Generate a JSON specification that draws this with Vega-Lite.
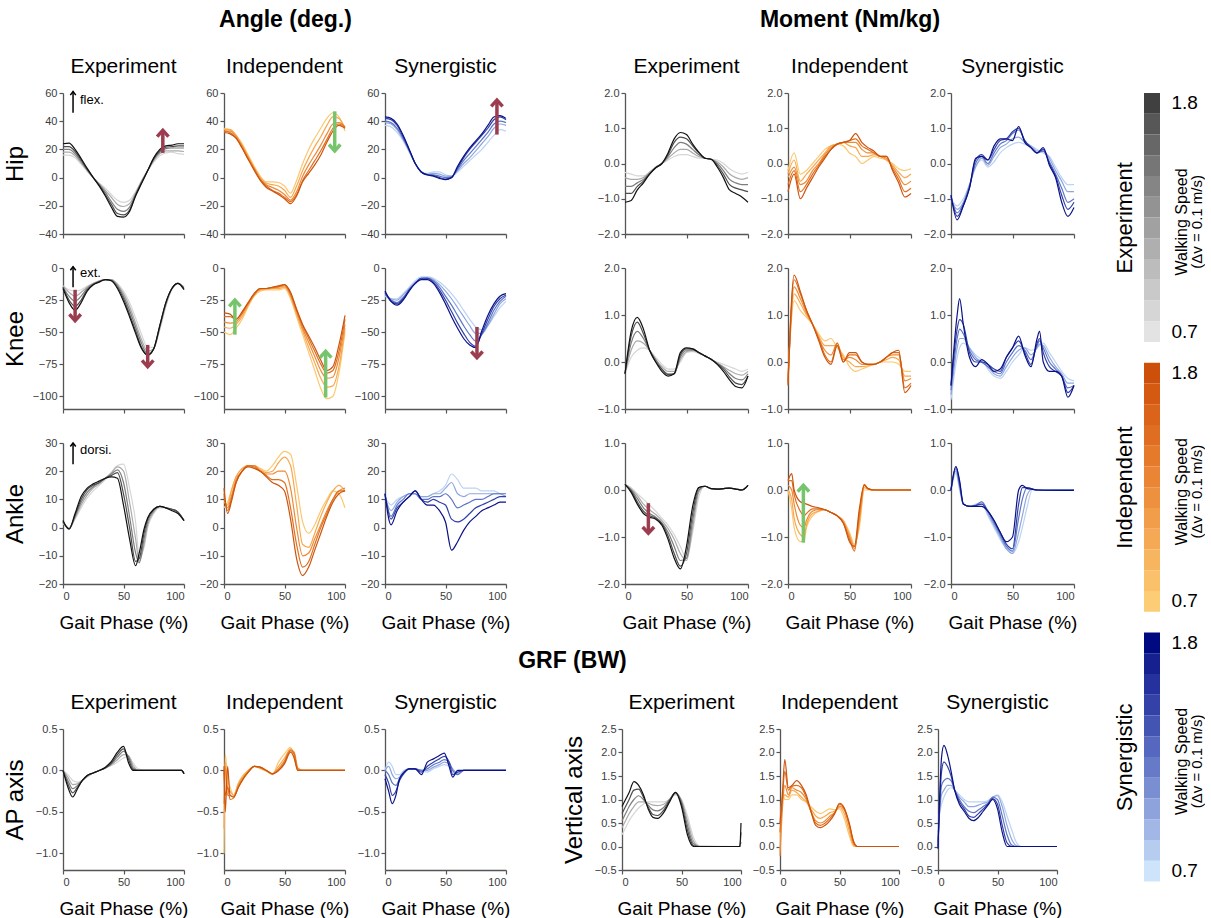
{
"$schema":"https://vega.github.io/schema/vega-lite/v6.json",
"background":"white",
"padding":{"left":3,"top":9,"right":0,"bottom":0},
"config":{"view":{"stroke":null},"font":"Liberation Sans",
"axis":{"grid":false,"domainColor":"#555555","domainWidth":1.3,"tickColor":"#555555","tickWidth":1.2,"tickSize":4,"labelColor":"#3c3c3c","labelFontSize":11,"labelFont":"Liberation Sans","titleFont":"Liberation Sans","titleFontWeight":"normal","titleColor":"black","labelPadding":2},
"axisX":{"titleFontSize":19,"titlePadding":12},
"axisY":{"titleFontSize":24,"titlePadding":8,"minExtent":28,"maxExtent":28},
"title":{"font":"Liberation Sans","fontSize":21,"fontWeight":"normal","color":"black","offset":10,"frame":"group","baseline":"alphabetic","anchor":"middle"},
"line":{"strokeWidth":1.2,"interpolate":"monotone"}},
"datasets":{
"hae":[{"x":0,"a":16,"b":18,"c":20,"d":22,"e":24},{"x":5,"a":16,"b":18,"c":20,"d":22,"e":24.5},{"x":10,"a":14,"b":15.5,"c":17,"d":18.5,"e":20},{"x":15,"a":9.5,"b":10.5,"c":11.5,"d":12.5,"e":13.5},{"x":20,"a":4.5,"b":5,"c":5.5,"d":6,"e":6.5},{"x":25,"a":0,"b":0,"c":0,"d":0,"e":0},{"x":30,"a":-4,"b":-4.5,"c":-5,"d":-5.5,"e":-6},{"x":35,"a":-7.5,"b":-9,"c":-10.5,"d":-12,"e":-13},{"x":40,"a":-12,"b":-14,"c":-17,"d":-19,"e":-21},{"x":45,"a":-16,"b":-19,"c":-22.5,"d":-25.5,"e":-27.5},{"x":50,"a":-17.5,"b":-20.5,"c":-24,"d":-26.5,"e":-28},{"x":55,"a":-16,"b":-18.5,"c":-21,"d":-23,"e":-24},{"x":60,"a":-10,"b":-11,"c":-12,"d":-12.5,"e":-13},{"x":65,"a":-2,"b":-2.5,"c":-3,"d":-3.5,"e":-4},{"x":70,"a":5,"b":5,"c":5,"d":5,"e":5},{"x":75,"a":11,"b":12,"c":13,"d":13.5,"e":14},{"x":80,"a":15.5,"b":17,"c":18,"d":19,"e":20},{"x":85,"a":17.5,"b":19,"c":20.5,"d":21.5,"e":22.5},{"x":90,"a":18,"b":19,"c":21,"d":22,"e":23},{"x":95,"a":17,"b":19,"c":21,"d":22.5,"e":24},{"x":100,"a":16.5,"b":18.5,"c":21,"d":22.5,"e":24}],
"hai":[{"x":0,"a":35,"b":34,"c":33,"d":33,"e":32},{"x":5,"a":34,"b":34,"c":33,"d":32,"e":31},{"x":10,"a":30,"b":30,"c":29,"d":28,"e":28},{"x":15,"a":24,"b":23,"c":22,"d":21,"e":21},{"x":20,"a":16,"b":15,"c":14,"d":13,"e":13},{"x":25,"a":8,"b":7,"c":6,"d":6,"e":5},{"x":30,"a":1,"b":0,"c":-1,"d":-1.5,"e":-2},{"x":35,"a":-3,"b":-4,"c":-5,"d":-6,"e":-7},{"x":40,"a":-3,"b":-5,"c":-7,"d":-9,"e":-9.5},{"x":45,"a":-3.5,"b":-6,"c":-9,"d":-11,"e":-12},{"x":50,"a":-6,"b":-9,"c":-12,"d":-14,"e":-15},{"x":55,"a":-11,"b":-14,"c":-16,"d":-17,"e":-18.5},{"x":60,"a":-2,"b":-6,"c":-10,"d":-12,"e":-13},{"x":65,"a":10,"b":5,"c":1,"d":-2,"e":-3},{"x":70,"a":20,"b":14,"c":9,"d":5,"e":3},{"x":75,"a":28,"b":22,"c":16,"d":12,"e":9},{"x":80,"a":35,"b":29,"c":23,"d":19,"e":16},{"x":85,"a":42,"b":37,"c":31,"d":27,"e":25},{"x":90,"a":46,"b":43,"c":38,"d":35,"e":33},{"x":95,"a":43,"b":42,"c":39,"d":38,"e":37},{"x":100,"a":33,"b":35,"c":36,"d":36,"e":35}],
"has":[{"x":0,"a":37,"b":39,"c":40,"d":42,"e":43},{"x":5,"a":36,"b":38,"c":39,"d":41,"e":42},{"x":10,"a":32,"b":34,"c":35,"d":37,"e":38},{"x":15,"a":26,"b":27,"c":28,"d":29,"e":30},{"x":20,"a":18,"b":19,"c":19,"d":20,"e":20},{"x":25,"a":10,"b":10,"c":10,"d":10,"e":10},{"x":30,"a":4,"b":4,"c":4,"d":4,"e":4},{"x":35,"a":3,"b":2.5,"c":2,"d":2,"e":2},{"x":40,"a":4,"b":3,"c":2,"d":1.5,"e":1},{"x":45,"a":4,"b":2.5,"c":1,"d":0,"e":-0.5},{"x":50,"a":2,"b":1,"c":0,"d":-1,"e":-1.5},{"x":55,"a":1,"b":1,"c":0.5,"d":0,"e":0},{"x":60,"a":4,"b":5,"c":6,"d":7,"e":8},{"x":65,"a":8,"b":10,"c":12,"d":14,"e":15},{"x":70,"a":12,"b":14,"c":17,"d":20,"e":21},{"x":75,"a":16,"b":19,"c":22,"d":25,"e":26},{"x":80,"a":20,"b":24,"c":27,"d":30,"e":31},{"x":85,"a":25,"b":29,"c":32,"d":35,"e":37},{"x":90,"a":30,"b":35,"c":38,"d":41,"e":43},{"x":95,"a":34,"b":38,"c":40,"d":43,"e":44},{"x":100,"a":33,"b":37,"c":39,"d":41,"e":42}],
"kae":[{"x":0,"a":-14,"b":-14,"c":-15,"d":-15,"e":-16},{"x":5,"a":-17,"b":-19,"c":-22,"d":-25,"e":-27},{"x":10,"a":-18,"b":-22,"c":-26,"d":-30,"e":-33},{"x":15,"a":-17,"b":-19,"c":-22,"d":-25,"e":-27},{"x":20,"a":-14,"b":-15,"c":-16,"d":-17,"e":-18},{"x":25,"a":-12,"b":-12,"c":-12.5,"d":-13,"e":-13},{"x":30,"a":-10,"b":-10,"c":-10.5,"d":-10.5,"e":-11},{"x":35,"a":-9,"b":-9,"c":-9,"d":-9,"e":-9},{"x":40,"a":-9,"b":-9,"c":-9.5,"d":-10,"e":-10},{"x":45,"a":-12,"b":-13,"c":-14,"d":-15,"e":-16},{"x":50,"a":-18,"b":-20,"c":-22,"d":-24,"e":-26},{"x":55,"a":-27,"b":-30,"c":-33,"d":-36,"e":-38},{"x":60,"a":-39,"b":-43,"c":-46,"d":-49,"e":-51},{"x":65,"a":-52,"b":-56,"c":-59,"d":-62,"e":-63},{"x":70,"a":-62,"b":-65,"c":-67,"d":-68,"e":-68},{"x":75,"a":-62,"b":-63,"c":-63,"d":-63,"e":-63},{"x":80,"a":-48,"b":-47,"c":-46,"d":-45,"e":-45},{"x":85,"a":-30,"b":-29,"c":-28,"d":-27,"e":-27},{"x":90,"a":-17,"b":-16,"c":-16,"d":-16,"e":-16},{"x":95,"a":-12,"b":-12,"c":-12,"d":-12,"e":-12},{"x":100,"a":-15,"b":-15,"c":-16,"d":-16,"e":-17}],
"kai":[{"x":0,"a":-50,"b":-46,"c":-42,"d":-38,"e":-35},{"x":5,"a":-52,"b":-47,"c":-43,"d":-38,"e":-36},{"x":10,"a":-47,"b":-44,"c":-42,"d":-40,"e":-40},{"x":15,"a":-40,"b":-38,"c":-36,"d":-35,"e":-34},{"x":20,"a":-30,"b":-29,"c":-28,"d":-27,"e":-27},{"x":25,"a":-22,"b":-21,"c":-21,"d":-20,"e":-20},{"x":30,"a":-18,"b":-17,"c":-16.5,"d":-16,"e":-16},{"x":35,"a":-17,"b":-16.5,"c":-16,"d":-16,"e":-16},{"x":40,"a":-17,"b":-16,"c":-15.5,"d":-15,"e":-15},{"x":45,"a":-17,"b":-16,"c":-15,"d":-14.5,"e":-14},{"x":50,"a":-16,"b":-15,"c":-14,"d":-13,"e":-13},{"x":55,"a":-24,"b":-22,"c":-21,"d":-20,"e":-19},{"x":60,"a":-38,"b":-36,"c":-34,"d":-33,"e":-32},{"x":65,"a":-52,"b":-49,"c":-47,"d":-45,"e":-44},{"x":70,"a":-66,"b":-62,"c":-58,"d":-55,"e":-53},{"x":75,"a":-80,"b":-74,"c":-69,"d":-65,"e":-62},{"x":80,"a":-94,"b":-86,"c":-80,"d":-75,"e":-72},{"x":85,"a":-102,"b":-93,"c":-86,"d":-82,"e":-80},{"x":90,"a":-100,"b":-92,"c":-85,"d":-80,"e":-77},{"x":95,"a":-82,"b":-77,"c":-70,"d":-65,"e":-60},{"x":100,"a":-50,"b":-47,"c":-44,"d":-40,"e":-37}],
"kas":[{"x":0,"a":-22,"b":-21,"c":-20,"d":-19,"e":-18},{"x":5,"a":-24,"b":-24,"c":-25,"d":-26,"e":-26},{"x":10,"a":-24,"b":-25,"c":-27,"d":-28,"e":-29},{"x":15,"a":-20,"b":-21,"c":-23,"d":-24,"e":-25},{"x":20,"a":-15,"b":-16,"c":-17,"d":-17,"e":-18},{"x":25,"a":-10,"b":-11,"c":-12,"d":-12,"e":-12},{"x":30,"a":-7,"b":-8,"c":-8,"d":-8,"e":-9},{"x":35,"a":-7,"b":-7.5,"c":-8,"d":-8,"e":-9},{"x":40,"a":-8,"b":-9,"c":-10,"d":-11,"e":-12},{"x":45,"a":-11,"b":-13,"c":-15,"d":-17,"e":-19},{"x":50,"a":-15,"b":-18,"c":-22,"d":-25,"e":-28},{"x":55,"a":-20,"b":-24,"c":-29,"d":-34,"e":-38},{"x":60,"a":-26,"b":-31,"c":-37,"d":-43,"e":-47},{"x":65,"a":-33,"b":-38,"c":-45,"d":-51,"e":-55},{"x":70,"a":-40,"b":-45,"c":-52,"d":-58,"e":-60},{"x":75,"a":-46,"b":-51,"c":-57,"d":-61,"e":-62},{"x":80,"a":-48,"b":-51,"c":-52,"d":-51,"e":-49},{"x":85,"a":-45,"b":-45,"c":-43,"d":-40,"e":-37},{"x":90,"a":-38,"b":-36,"c":-33,"d":-30,"e":-28},{"x":95,"a":-31,"b":-28,"c":-26,"d":-24,"e":-22},{"x":100,"a":-26,"b":-24,"c":-22,"d":-21,"e":-20}],
"aae":[{"x":0,"a":1.5,"b":1.8,"c":2,"d":2.2,"e":2.5},{"x":5,"a":0,"b":-0.3,"c":-0.5,"d":-0.5,"e":-0.5},{"x":10,"a":3,"b":3.5,"c":4,"d":4.5,"e":5},{"x":15,"a":7,"b":8,"c":9,"d":10,"e":11},{"x":20,"a":10.5,"b":11.5,"c":12.5,"d":13.5,"e":14},{"x":25,"a":13,"b":14,"c":14.5,"d":15,"e":15.5},{"x":30,"a":15,"b":15.5,"c":16,"d":16,"e":16.5},{"x":35,"a":17,"b":17.5,"c":17.5,"d":17.5,"e":17.5},{"x":40,"a":19.5,"b":19.5,"c":19,"d":18.5,"e":18},{"x":45,"a":22,"b":21.5,"c":20.5,"d":19.5,"e":17.5},{"x":50,"a":22.5,"b":20,"c":16,"d":12,"e":8},{"x":55,"a":14,"b":9,"c":4,"d":0,"e":-4},{"x":60,"a":2,"b":-4,"c":-9,"d":-12,"e":-13.5},{"x":63,"a":-10,"b":-12,"c":-12.5,"d":-11,"e":-9},{"x":67,"a":-7,"b":-6,"c":-4,"d":-2,"e":-0.5},{"x":70,"a":0,"b":1,"c":2,"d":3,"e":3.5},{"x":75,"a":5,"b":5.5,"c":6,"d":6.5,"e":6.5},{"x":80,"a":7,"b":7.5,"c":7.5,"d":7.5,"e":7.5},{"x":85,"a":7,"b":7,"c":7,"d":7,"e":7},{"x":90,"a":6.5,"b":6.5,"c":6.5,"d":6.5,"e":6},{"x":95,"a":5,"b":5.5,"c":5.5,"d":5.5,"e":5},{"x":100,"a":2.5,"b":2.5,"c":2.5,"d":2.5,"e":2.5}],
"aai":[{"x":0,"a":7,"b":9,"c":11,"d":12,"e":14},{"x":3,"a":9,"b":8,"c":7,"d":6,"e":5},{"x":6,"a":13,"b":13,"c":11,"d":10,"e":9},{"x":10,"a":18,"b":18,"c":17,"d":16,"e":16},{"x":15,"a":21,"b":21,"c":20,"d":20,"e":20},{"x":20,"a":22,"b":22,"c":22,"d":22,"e":21.5},{"x":25,"a":22,"b":22,"c":22,"d":21.5,"e":21},{"x":30,"a":21,"b":20.5,"c":20,"d":20,"e":20},{"x":35,"a":20,"b":19.5,"c":19,"d":18.5,"e":18},{"x":40,"a":22,"b":20,"c":19,"d":17,"e":16},{"x":45,"a":25,"b":23,"c":20,"d":17,"e":15},{"x":50,"a":27,"b":25,"c":20,"d":16,"e":13},{"x":55,"a":26,"b":22,"c":14,"d":7,"e":3},{"x":60,"a":15,"b":8,"c":0,"d":-6,"e":-11},{"x":65,"a":2,"b":-6,"c":-10,"d":-14,"e":-17},{"x":70,"a":-2,"b":-7,"c":-9,"d":-12,"e":-14},{"x":75,"a":1,"b":-2,"c":-4,"d":-6,"e":-8},{"x":80,"a":6,"b":4,"c":1,"d":0,"e":-2},{"x":85,"a":10,"b":9,"c":6,"d":5,"e":4},{"x":90,"a":13,"b":13,"c":10,"d":10,"e":9},{"x":95,"a":12,"b":15,"c":13,"d":13,"e":12},{"x":100,"a":7,"b":13,"c":14,"d":13,"e":13}],
"aas":[{"x":0,"a":11,"b":11,"c":12,"d":12,"e":12},{"x":5,"a":8,"b":6,"c":4,"d":3,"e":1},{"x":10,"a":10,"b":9,"c":8,"d":7,"e":6},{"x":15,"a":11,"b":11,"c":10,"d":9,"e":9},{"x":20,"a":12,"b":12,"c":12,"d":11,"e":11},{"x":25,"a":12,"b":12,"c":12,"d":13,"e":13},{"x":30,"a":11,"b":11,"c":10,"d":10,"e":10},{"x":35,"a":11,"b":11,"c":10,"d":9,"e":8},{"x":40,"a":12,"b":12,"c":11,"d":10,"e":8},{"x":45,"a":13,"b":12,"c":11,"d":9,"e":6},{"x":50,"a":15,"b":14,"c":12,"d":8,"e":2},{"x":55,"a":19,"b":16,"c":10,"d":3,"e":-8},{"x":60,"a":17,"b":12,"c":7,"d":2,"e":-5},{"x":65,"a":14,"b":11,"c":8,"d":3,"e":-1},{"x":70,"a":14,"b":12,"c":9,"d":5,"e":2},{"x":75,"a":14,"b":12,"c":10,"d":7,"e":4},{"x":80,"a":13,"b":12,"c":10,"d":8,"e":6},{"x":85,"a":13,"b":12,"c":11,"d":9,"e":7},{"x":90,"a":13,"b":12,"c":12,"d":10,"e":8},{"x":95,"a":12,"b":12,"c":12,"d":11,"e":9},{"x":100,"a":11,"b":11,"c":12,"d":11,"e":9}],
"hme":[{"x":0,"a":-0.25,"b":-0.4,"c":-0.65,"d":-0.85,"e":-1.1},{"x":5,"a":-0.3,"b":-0.45,"c":-0.65,"d":-0.85,"e":-1.05},{"x":10,"a":-0.35,"b":-0.45,"c":-0.55,"d":-0.65,"e":-0.75},{"x":15,"a":-0.35,"b":-0.4,"c":-0.45,"d":-0.5,"e":-0.55},{"x":20,"a":-0.25,"b":-0.25,"c":-0.28,"d":-0.3,"e":-0.3},{"x":25,"a":-0.1,"b":-0.1,"c":-0.12,"d":-0.12,"e":-0.12},{"x":30,"a":0,"b":0,"c":0,"d":0,"e":0},{"x":35,"a":0.1,"b":0.15,"c":0.2,"d":0.25,"e":0.3},{"x":40,"a":0.2,"b":0.3,"c":0.45,"d":0.6,"e":0.7},{"x":45,"a":0.25,"b":0.4,"c":0.6,"d":0.75,"e":0.88},{"x":50,"a":0.25,"b":0.4,"c":0.55,"d":0.7,"e":0.82},{"x":55,"a":0.2,"b":0.3,"c":0.4,"d":0.5,"e":0.55},{"x":60,"a":0.15,"b":0.2,"c":0.25,"d":0.3,"e":0.32},{"x":65,"a":0.15,"b":0.15,"c":0.15,"d":0.15,"e":0.15},{"x":70,"a":0.12,"b":0.12,"c":0.12,"d":0.12,"e":0.12},{"x":75,"a":0.1,"b":0.05,"c":0,"d":-0.05,"e":-0.1},{"x":80,"a":0,"b":-0.1,"c":-0.2,"d":-0.3,"e":-0.4},{"x":85,"a":-0.15,"b":-0.3,"c":-0.45,"d":-0.6,"e":-0.75},{"x":90,"a":-0.25,"b":-0.4,"c":-0.55,"d":-0.7,"e":-0.85},{"x":95,"a":-0.3,"b":-0.45,"c":-0.6,"d":-0.75,"e":-0.95},{"x":100,"a":-0.25,"b":-0.4,"c":-0.6,"d":-0.8,"e":-1.1}],
"hmi":[{"x":0,"a":-0.2,"b":-0.3,"c":-0.4,"d":-0.6,"e":-0.8},{"x":5,"a":0.3,"b":0.1,"c":-0.1,"d":-0.2,"e":-0.3},{"x":10,"a":-0.3,"b":-0.5,"c":-0.6,"d":-0.8,"e":-1},{"x":15,"a":-0.2,"b":-0.3,"c":-0.5,"d":-0.6,"e":-0.7},{"x":20,"a":0,"b":-0.1,"c":-0.2,"d":-0.3,"e":-0.4},{"x":25,"a":0.2,"b":0.1,"c":0,"d":-0.05,"e":-0.1},{"x":30,"a":0.4,"b":0.3,"c":0.25,"d":0.2,"e":0.15},{"x":35,"a":0.5,"b":0.5,"c":0.45,"d":0.4,"e":0.4},{"x":40,"a":0.55,"b":0.55,"c":0.55,"d":0.55,"e":0.55},{"x":45,"a":0.5,"b":0.6,"c":0.6,"d":0.6,"e":0.6},{"x":50,"a":0.3,"b":0.5,"c":0.6,"d":0.65,"e":0.65},{"x":55,"a":0.2,"b":0.45,"c":0.6,"d":0.7,"e":0.85},{"x":60,"a":0,"b":0.2,"c":0.4,"d":0.5,"e":0.6},{"x":65,"a":0.1,"b":0.2,"c":0.3,"d":0.4,"e":0.45},{"x":70,"a":0.2,"b":0.25,"c":0.3,"d":0.3,"e":0.35},{"x":75,"a":0.15,"b":0.2,"c":0.2,"d":0.2,"e":0.2},{"x":80,"a":0.1,"b":0.1,"c":0.15,"d":0.2,"e":0.2},{"x":85,"a":0,"b":-0.05,"c":-0.1,"d":-0.15,"e":-0.2},{"x":90,"a":-0.15,"b":-0.25,"c":-0.35,"d":-0.45,"e":-0.55},{"x":95,"a":-0.2,"b":-0.4,"c":-0.6,"d":-0.8,"e":-0.95},{"x":100,"a":-0.15,"b":-0.3,"c":-0.5,"d":-0.7,"e":-0.85}],
"hms":[{"x":0,"a":-1,"b":-1,"c":-0.95,"d":-0.9,"e":-0.9},{"x":5,"a":-1.2,"b":-1.3,"c":-1.4,"d":-1.5,"e":-1.6},{"x":10,"a":-1,"b":-1.1,"c":-1.15,"d":-1.2,"e":-1.2},{"x":15,"a":-0.6,"b":-0.6,"c":-0.65,"d":-0.7,"e":-0.7},{"x":20,"a":-0.1,"b":-0.1,"c":0,"d":0.1,"e":0.15},{"x":25,"a":0.1,"b":0.15,"c":0.2,"d":0.25,"e":0.2},{"x":30,"a":-0.1,"b":-0.05,"c":0,"d":0.1,"e":0.1},{"x":35,"a":0.05,"b":0.2,"c":0.3,"d":0.4,"e":0.5},{"x":40,"a":0.3,"b":0.45,"c":0.55,"d":0.65,"e":0.7},{"x":45,"a":0.45,"b":0.55,"c":0.65,"d":0.7,"e":0.7},{"x":50,"a":0.55,"b":0.7,"c":0.85,"d":0.9,"e":0.65},{"x":55,"a":0.6,"b":0.75,"c":0.95,"d":1,"e":1.05},{"x":60,"a":0.55,"b":0.6,"c":0.65,"d":0.65,"e":0.6},{"x":65,"a":0.5,"b":0.5,"c":0.45,"d":0.45,"e":0.45},{"x":70,"a":0.4,"b":0.35,"c":0.3,"d":0.3,"e":0.3},{"x":75,"a":0.3,"b":0.35,"c":0.35,"d":0.4,"e":0.45},{"x":80,"a":0.2,"b":0.15,"c":0.05,"d":0,"e":-0.05},{"x":85,"a":-0.1,"b":-0.2,"c":-0.3,"d":-0.35,"e":-0.4},{"x":90,"a":-0.4,"b":-0.5,"c":-0.7,"d":-0.9,"e":-1.1},{"x":95,"a":-0.6,"b":-0.8,"c":-1.1,"d":-1.3,"e":-1.5},{"x":100,"a":-0.6,"b":-0.8,"c":-1,"d":-1.1,"e":-1.25}],
"kme":[{"x":0,"a":-0.25,"b":-0.25,"c":-0.25,"d":-0.25,"e":-0.25},{"x":5,"a":0.1,"b":0.25,"c":0.4,"d":0.55,"e":0.65},{"x":10,"a":0.25,"b":0.45,"c":0.65,"d":0.85,"e":0.95},{"x":15,"a":0.3,"b":0.4,"c":0.5,"d":0.6,"e":0.7},{"x":20,"a":0.25,"b":0.25,"c":0.25,"d":0.25,"e":0.25},{"x":25,"a":0.1,"b":0.05,"c":0.05,"d":0,"e":0},{"x":30,"a":-0.05,"b":-0.1,"c":-0.15,"d":-0.15,"e":-0.2},{"x":35,"a":-0.15,"b":-0.2,"c":-0.25,"d":-0.27,"e":-0.3},{"x":40,"a":-0.15,"b":-0.2,"c":-0.25,"d":-0.25,"e":-0.25},{"x":45,"a":0,"b":0.05,"c":0.1,"d":0.15,"e":0.2},{"x":50,"a":0.2,"b":0.22,"c":0.25,"d":0.28,"e":0.3},{"x":55,"a":0.22,"b":0.24,"c":0.26,"d":0.28,"e":0.28},{"x":60,"a":0.18,"b":0.2,"c":0.2,"d":0.2,"e":0.2},{"x":65,"a":0.12,"b":0.13,"c":0.13,"d":0.13,"e":0.13},{"x":70,"a":0.05,"b":0.06,"c":0.06,"d":0.06,"e":0.06},{"x":75,"a":0,"b":-0.02,"c":-0.03,"d":-0.04,"e":-0.05},{"x":80,"a":-0.05,"b":-0.1,"c":-0.12,"d":-0.15,"e":-0.2},{"x":85,"a":-0.1,"b":-0.18,"c":-0.25,"d":-0.32,"e":-0.38},{"x":90,"a":-0.15,"b":-0.25,"c":-0.35,"d":-0.45,"e":-0.52},{"x":95,"a":-0.2,"b":-0.28,"c":-0.38,"d":-0.48,"e":-0.55},{"x":100,"a":-0.15,"b":-0.2,"c":-0.25,"d":-0.3,"e":-0.3}],
"kmi":[{"x":0,"a":-0.3,"b":-0.35,"c":-0.4,"d":-0.45,"e":-0.5},{"x":5,"a":1.3,"b":1.45,"c":1.6,"d":1.75,"e":1.85},{"x":10,"a":1.1,"b":1.25,"c":1.35,"d":1.45,"e":1.5},{"x":15,"a":0.95,"b":1,"c":1.05,"d":1.1,"e":1.1},{"x":20,"a":0.8,"b":0.8,"c":0.8,"d":0.8,"e":0.8},{"x":25,"a":0.6,"b":0.55,"c":0.5,"d":0.5,"e":0.45},{"x":30,"a":0.45,"b":0.35,"c":0.25,"d":0.15,"e":0.1},{"x":35,"a":0.5,"b":0.35,"c":0.15,"d":0,"e":-0.05},{"x":40,"a":0.3,"b":0.35,"c":0.4,"d":0.4,"e":0.35},{"x":45,"a":0.15,"b":0.1,"c":0.05,"d":0,"e":0},{"x":50,"a":-0.1,"b":0,"c":0.1,"d":0.15,"e":0.2},{"x":55,"a":-0.2,"b":-0.1,"c":0.05,"d":0.15,"e":0.2},{"x":60,"a":-0.15,"b":-0.1,"c":-0.05,"d":0,"e":0},{"x":65,"a":-0.1,"b":-0.08,"c":-0.05,"d":-0.05,"e":-0.05},{"x":70,"a":-0.05,"b":-0.05,"c":-0.05,"d":-0.05,"e":-0.05},{"x":75,"a":0,"b":0,"c":0,"d":0,"e":0},{"x":80,"a":0,"b":0.05,"c":0.1,"d":0.1,"e":0.1},{"x":85,"a":0,"b":0.1,"c":0.15,"d":0.2,"e":0.2},{"x":90,"a":-0.05,"b":0.05,"c":0.15,"d":0.2,"e":0.25},{"x":95,"a":-0.2,"b":-0.3,"c":-0.4,"d":-0.55,"e":-0.65},{"x":100,"a":-0.2,"b":-0.3,"c":-0.35,"d":-0.45,"e":-0.5}],
"kms":[{"x":0,"a":-0.8,"b":-0.7,"c":-0.6,"d":-0.5,"e":-0.5},{"x":5,"a":0.1,"b":0.3,"c":0.5,"d":0.7,"e":1},{"x":7,"a":0.3,"b":0.5,"c":0.7,"d":0.9,"e":1.35},{"x":10,"a":0.4,"b":0.5,"c":0.6,"d":0.8,"e":0.8},{"x":15,"a":0.3,"b":0.3,"c":0.25,"d":0.2,"e":0.1},{"x":20,"a":0.15,"b":0.1,"c":0.05,"d":0,"e":-0.1},{"x":25,"a":0.05,"b":0,"c":0,"d":0,"e":0.05},{"x":30,"a":-0.15,"b":-0.1,"c":-0.1,"d":-0.05,"e":-0.05},{"x":35,"a":-0.3,"b":-0.25,"c":-0.2,"d":-0.15,"e":-0.2},{"x":40,"a":-0.35,"b":-0.3,"c":-0.25,"d":-0.2,"e":-0.15},{"x":45,"a":-0.2,"b":-0.1,"c":0,"d":0.1,"e":0.1},{"x":50,"a":0,"b":0.1,"c":0.2,"d":0.3,"e":0.3},{"x":55,"a":0.15,"b":0.25,"c":0.35,"d":0.45,"e":0.55},{"x":60,"a":0.3,"b":0.3,"c":0.25,"d":0.2,"e":0.15},{"x":65,"a":0.25,"b":0.15,"c":0.05,"d":-0.05,"e":-0.1},{"x":70,"a":0.3,"b":0.3,"c":0.35,"d":0.4,"e":0.5},{"x":72,"a":0.35,"b":0.38,"c":0.45,"d":0.5,"e":0.65},{"x":75,"a":0.4,"b":0.35,"c":0.3,"d":0.2,"e":0},{"x":80,"a":0.2,"b":0.1,"c":0,"d":-0.1,"e":-0.2},{"x":85,"a":0,"b":-0.1,"c":-0.15,"d":-0.2,"e":-0.2},{"x":90,"a":-0.2,"b":-0.25,"c":-0.3,"d":-0.3,"e":-0.3},{"x":95,"a":-0.35,"b":-0.45,"c":-0.55,"d":-0.65,"e":-0.75},{"x":100,"a":-0.4,"b":-0.45,"c":-0.5,"d":-0.5,"e":-0.5}],
"ame":[{"x":0,"a":0.12,"b":0.12,"c":0.12,"d":0.12,"e":0.12},{"x":5,"a":0.05,"b":0.02,"c":0,"d":-0.02,"e":-0.05},{"x":10,"a":-0.08,"b":-0.12,"c":-0.18,"d":-0.25,"e":-0.3},{"x":15,"a":-0.2,"b":-0.3,"c":-0.38,"d":-0.45,"e":-0.5},{"x":20,"a":-0.32,"b":-0.42,"c":-0.5,"d":-0.55,"e":-0.58},{"x":25,"a":-0.45,"b":-0.52,"c":-0.58,"d":-0.6,"e":-0.62},{"x":30,"a":-0.6,"b":-0.65,"c":-0.7,"d":-0.72,"e":-0.75},{"x":35,"a":-0.75,"b":-0.82,"c":-0.9,"d":-0.98,"e":-1.05},{"x":40,"a":-0.95,"b":-1.05,"c":-1.2,"d":-1.35,"e":-1.45},{"x":45,"a":-1.2,"b":-1.35,"c":-1.5,"d":-1.62,"e":-1.68},{"x":50,"a":-1.45,"b":-1.5,"c":-1.45,"d":-1.35,"e":-1.2},{"x":55,"a":-0.9,"b":-0.8,"c":-0.65,"d":-0.5,"e":-0.35},{"x":60,"a":-0.15,"b":-0.05,"c":0,"d":0.05,"e":0.05},{"x":65,"a":0.08,"b":0.08,"c":0.08,"d":0.08,"e":0.08},{"x":70,"a":0.03,"b":0.03,"c":0.03,"d":0.03,"e":0.03},{"x":75,"a":0.02,"b":0.02,"c":0.02,"d":0.02,"e":0.02},{"x":80,"a":0.03,"b":0.03,"c":0.03,"d":0.03,"e":0.03},{"x":85,"a":0.04,"b":0.04,"c":0.04,"d":0.04,"e":0.04},{"x":90,"a":0.02,"b":0.02,"c":0.02,"d":0.02,"e":0.02},{"x":95,"a":0,"b":0,"c":0,"d":0,"e":0},{"x":100,"a":0.1,"b":0.1,"c":0.1,"d":0.1,"e":0.1}],
"ami":[{"x":0,"a":0,"b":0,"c":0.1,"d":0.2,"e":0.2},{"x":3,"a":-0.4,"b":-0.2,"c":0,"d":0.2,"e":0.35},{"x":5,"a":-0.8,"b":-0.6,"c":-0.3,"d":-0.1,"e":0},{"x":10,"a":-1.1,"b":-0.95,"c":-0.75,"d":-0.45,"e":-0.25},{"x":13,"a":-1.1,"b":-1,"c":-0.8,"d":-0.55,"e":-0.28},{"x":15,"a":-0.8,"b":-0.75,"c":-0.65,"d":-0.5,"e":-0.3},{"x":20,"a":-0.55,"b":-0.5,"c":-0.45,"d":-0.4,"e":-0.35},{"x":25,"a":-0.45,"b":-0.45,"c":-0.42,"d":-0.4,"e":-0.38},{"x":30,"a":-0.42,"b":-0.42,"c":-0.42,"d":-0.42,"e":-0.42},{"x":35,"a":-0.48,"b":-0.48,"c":-0.48,"d":-0.48,"e":-0.48},{"x":40,"a":-0.55,"b":-0.55,"c":-0.55,"d":-0.55,"e":-0.55},{"x":45,"a":-0.65,"b":-0.65,"c":-0.7,"d":-0.7,"e":-0.7},{"x":50,"a":-0.9,"b":-0.95,"c":-1,"d":-1.05,"e":-1.1},{"x":54,"a":-1.15,"b":-1.2,"c":-1.25,"d":-1.3,"e":-1.2},{"x":58,"a":-0.8,"b":-0.7,"c":-0.6,"d":-0.5,"e":-0.4},{"x":62,"a":0,"b":0.05,"c":0.1,"d":0.12,"e":0.1},{"x":65,"a":0,"b":0.02,"c":0.03,"d":0.03,"e":0.03},{"x":70,"a":0,"b":0,"c":0,"d":0,"e":0},{"x":100,"a":0,"b":0,"c":0,"d":0,"e":0}],
"ams":[{"x":0,"a":0,"b":0,"c":0,"d":0,"e":0},{"x":4,"a":0.35,"b":0.4,"c":0.45,"d":0.5,"e":0.5},{"x":7,"a":0,"b":0.05,"c":0.1,"d":0.15,"e":0.2},{"x":10,"a":-0.3,"b":-0.3,"c":-0.3,"d":-0.3,"e":-0.3},{"x":15,"a":-0.35,"b":-0.35,"c":-0.35,"d":-0.35,"e":-0.35},{"x":20,"a":-0.3,"b":-0.32,"c":-0.33,"d":-0.33,"e":-0.35},{"x":25,"a":-0.28,"b":-0.25,"c":-0.25,"d":-0.3,"e":-0.35},{"x":30,"a":-0.55,"b":-0.5,"c":-0.45,"d":-0.45,"e":-0.45},{"x":35,"a":-0.8,"b":-0.75,"c":-0.7,"d":-0.65,"e":-0.65},{"x":40,"a":-1.05,"b":-1,"c":-0.95,"d":-0.9,"e":-0.9},{"x":45,"a":-1.25,"b":-1.25,"c":-1.2,"d":-1.15,"e":-1.1},{"x":50,"a":-1.35,"b":-1.35,"c":-1.3,"d":-1.25,"e":-1},{"x":55,"a":-1.1,"b":-0.9,"c":-0.6,"d":-0.3,"e":0},{"x":58,"a":-0.8,"b":-0.55,"c":-0.2,"d":0.05,"e":0.1},{"x":62,"a":-0.35,"b":-0.1,"c":0.05,"d":0.05,"e":0.03},{"x":66,"a":0,"b":0.02,"c":0.02,"d":0.02,"e":0.02},{"x":70,"a":0,"b":0,"c":0,"d":0,"e":0},{"x":100,"a":0,"b":0,"c":0,"d":-0.01,"e":-0.01}],
"gae":[{"x":0,"a":0,"b":0,"c":0,"d":0,"e":0},{"x":4,"a":-0.05,"b":-0.08,"c":-0.12,"d":-0.16,"e":-0.2},{"x":8,"a":-0.12,"b":-0.17,"c":-0.22,"d":-0.27,"e":-0.32},{"x":12,"a":-0.14,"b":-0.16,"c":-0.18,"d":-0.2,"e":-0.22},{"x":16,"a":-0.12,"b":-0.12,"c":-0.12,"d":-0.12,"e":-0.12},{"x":20,"a":-0.08,"b":-0.07,"c":-0.07,"d":-0.06,"e":-0.06},{"x":25,"a":-0.03,"b":-0.03,"c":-0.03,"d":-0.03,"e":-0.03},{"x":30,"a":0,"b":0,"c":0,"d":0,"e":0},{"x":35,"a":0.03,"b":0.03,"c":0.03,"d":0.03,"e":0.04},{"x":40,"a":0.06,"b":0.07,"c":0.08,"d":0.09,"e":0.11},{"x":45,"a":0.1,"b":0.13,"c":0.16,"d":0.19,"e":0.22},{"x":50,"a":0.15,"b":0.19,"c":0.23,"d":0.26,"e":0.29},{"x":54,"a":0.17,"b":0.18,"c":0.17,"d":0.14,"e":0.1},{"x":58,"a":0.09,"b":0.06,"c":0.03,"d":0.01,"e":0},{"x":62,"a":0.02,"b":0,"c":0,"d":0,"e":0},{"x":70,"a":0,"b":0,"c":0,"d":0,"e":0},{"x":98,"a":0,"b":0,"c":0,"d":0,"e":0},{"x":100,"a":-0.04,"b":-0.04,"c":-0.04,"d":-0.04,"e":-0.04}],
"gai":[{"x":0,"a":-1,"b":-0.7,"c":-0.4,"d":0,"e":0.05},{"x":1,"a":0.2,"b":0.1,"c":0.05,"d":-0.3,"e":-0.5},{"x":3,"a":-0.1,"b":-0.2,"c":-0.3,"d":-0.2,"e":0.05},{"x":5,"a":-0.2,"b":-0.25,"c":-0.3,"d":-0.35,"e":-0.3},{"x":8,"a":-0.3,"b":-0.3,"c":-0.32,"d":-0.33,"e":-0.32},{"x":12,"a":-0.15,"b":-0.15,"c":-0.18,"d":-0.2,"e":-0.2},{"x":16,"a":-0.05,"b":-0.07,"c":-0.08,"d":-0.1,"e":-0.1},{"x":20,"a":0,"b":0,"c":-0.02,"d":-0.02,"e":-0.02},{"x":25,"a":0.05,"b":0.05,"c":0.05,"d":0.05,"e":0.05},{"x":30,"a":0.02,"b":0.03,"c":0.03,"d":0.04,"e":0.04},{"x":35,"a":-0.01,"b":0,"c":0,"d":0,"e":0},{"x":40,"a":-0.05,"b":-0.04,"c":-0.04,"d":-0.04,"e":-0.04},{"x":45,"a":0.1,"b":0.05,"c":0.02,"d":0,"e":0},{"x":50,"a":0.2,"b":0.15,"c":0.12,"d":0.1,"e":0.08},{"x":55,"a":0.28,"b":0.26,"c":0.25,"d":0.24,"e":0.22},{"x":58,"a":0.15,"b":0.2,"c":0.22,"d":0.2,"e":0.15},{"x":61,"a":0,"b":0.02,"c":0.03,"d":0,"e":0},{"x":65,"a":0,"b":0,"c":0,"d":0,"e":0},{"x":100,"a":0,"b":0,"c":0,"d":0,"e":0}],
"gas":[{"x":0,"a":0,"b":0,"c":0,"d":-0.05,"e":-0.1},{"x":3,"a":0.1,"b":0.05,"c":-0.05,"d":-0.15,"e":-0.25},{"x":6,"a":0.05,"b":-0.05,"c":-0.15,"d":-0.3,"e":-0.4},{"x":9,"a":-0.05,"b":-0.1,"c":-0.18,"d":-0.25,"e":-0.3},{"x":12,"a":-0.05,"b":-0.08,"c":-0.1,"d":-0.12,"e":-0.1},{"x":16,"a":0,"b":0,"c":-0.02,"d":-0.03,"e":-0.02},{"x":20,"a":0.02,"b":0.02,"c":0.02,"d":0.02,"e":0.02},{"x":25,"a":0.02,"b":0.02,"c":0.02,"d":0.02,"e":0.02},{"x":30,"a":0,"b":0,"c":0,"d":-0.02,"e":-0.05},{"x":35,"a":-0.02,"b":0,"c":0.02,"d":0.05,"e":0.1},{"x":40,"a":0.02,"b":0.04,"c":0.07,"d":0.1,"e":0.14},{"x":45,"a":0.05,"b":0.07,"c":0.1,"d":0.14,"e":0.18},{"x":49,"a":0.07,"b":0.1,"c":0.13,"d":0.17,"e":0.21},{"x":53,"a":0.05,"b":0.08,"c":0.1,"d":0.1,"e":0.05},{"x":56,"a":0,"b":0.02,"c":0,"d":-0.05,"e":-0.08},{"x":60,"a":-0.04,"b":-0.04,"c":-0.05,"d":-0.02,"e":0},{"x":65,"a":0,"b":0,"c":0,"d":0,"e":0},{"x":100,"a":0,"b":0,"c":0,"d":0,"e":0}],
"gve":[{"x":0,"a":0.25,"b":0.4,"c":0.55,"d":0.7,"e":0.85},{"x":3,"a":0.4,"b":0.55,"c":0.7,"d":0.85,"e":1},{"x":6,"a":0.55,"b":0.7,"c":0.85,"d":1,"e":1.15},{"x":10,"a":0.7,"b":0.85,"c":1,"d":1.2,"e":1.38},{"x":14,"a":0.82,"b":0.95,"c":1.08,"d":1.22,"e":1.3},{"x":18,"a":0.9,"b":0.95,"c":1,"d":1.05,"e":1.1},{"x":22,"a":0.95,"b":0.92,"c":0.88,"d":0.84,"e":0.8},{"x":26,"a":0.95,"b":0.88,"c":0.78,"d":0.68,"e":0.62},{"x":30,"a":0.95,"b":0.87,"c":0.76,"d":0.66,"e":0.6},{"x":35,"a":0.95,"b":0.9,"c":0.83,"d":0.77,"e":0.72},{"x":40,"a":1,"b":1,"c":1,"d":0.98,"e":0.95},{"x":45,"a":1.1,"b":1.12,"c":1.14,"d":1.15,"e":1.15},{"x":50,"a":1,"b":0.98,"c":0.95,"d":0.9,"e":0.85},{"x":55,"a":0.65,"b":0.55,"c":0.45,"d":0.35,"e":0.25},{"x":60,"a":0.2,"b":0.12,"c":0.06,"d":0.02,"e":0},{"x":65,"a":0.02,"b":0,"c":0,"d":0,"e":0},{"x":99,"a":0,"b":0,"c":0,"d":0,"e":0},{"x":100,"a":0,"b":0,"c":0.1,"d":0.3,"e":0.5}],
"gvi":[{"x":0,"a":0.2,"b":-0.1,"c":-0.2,"d":0.3,"e":0.5},{"x":2,"a":1.2,"b":1,"c":0.8,"d":1,"e":1.1},{"x":4,"a":1,"b":1.1,"c":1.3,"d":1.6,"e":1.85},{"x":7,"a":1,"b":1.05,"c":1.1,"d":1.2,"e":1.25},{"x":10,"a":1.1,"b":1.2,"c":1.25,"d":1.28,"e":1.3},{"x":14,"a":1.1,"b":1.15,"c":1.2,"d":1.3,"e":1.4},{"x":18,"a":1,"b":1.05,"c":1.15,"d":1.25,"e":1.3},{"x":22,"a":0.95,"b":0.95,"c":1,"d":1.05,"e":1.1},{"x":26,"a":0.85,"b":0.8,"c":0.75,"d":0.75,"e":0.75},{"x":30,"a":0.75,"b":0.65,"c":0.55,"d":0.5,"e":0.45},{"x":34,"a":0.7,"b":0.6,"c":0.5,"d":0.45,"e":0.4},{"x":38,"a":0.75,"b":0.65,"c":0.55,"d":0.5,"e":0.45},{"x":42,"a":0.8,"b":0.72,"c":0.65,"d":0.6,"e":0.55},{"x":46,"a":0.78,"b":0.75,"c":0.72,"d":0.72,"e":0.7},{"x":50,"a":0.8,"b":0.83,"c":0.86,"d":0.9,"e":0.92},{"x":54,"a":0.6,"b":0.7,"c":0.78,"d":0.8,"e":0.82},{"x":58,"a":0.25,"b":0.35,"c":0.45,"d":0.5,"e":0.52},{"x":62,"a":0,"b":0.02,"c":0.05,"d":0.08,"e":0.1},{"x":65,"a":0,"b":0,"c":0,"d":0,"e":0},{"x":100,"a":0,"b":0,"c":0,"d":0,"e":0}],
"gvs":[{"x":0,"a":0.5,"b":0.3,"c":0.1,"d":0,"e":-0.05},{"x":3,"a":0.9,"b":1.1,"c":1.3,"d":1.6,"e":1.9},{"x":5,"a":1.05,"b":1.2,"c":1.4,"d":1.8,"e":2.15},{"x":8,"a":1.2,"b":1.3,"c":1.45,"d":1.7,"e":1.95},{"x":11,"a":1.25,"b":1.3,"c":1.4,"d":1.5,"e":1.6},{"x":14,"a":1.2,"b":1.2,"c":1.2,"d":1.2,"e":1.2},{"x":18,"a":1.1,"b":1.05,"c":1,"d":0.95,"e":0.9},{"x":22,"a":1,"b":0.95,"c":0.85,"d":0.8,"e":0.75},{"x":26,"a":0.95,"b":0.85,"c":0.75,"d":0.65,"e":0.6},{"x":30,"a":0.95,"b":0.85,"c":0.72,"d":0.62,"e":0.55},{"x":34,"a":0.95,"b":0.88,"c":0.78,"d":0.7,"e":0.62},{"x":38,"a":0.95,"b":0.92,"c":0.85,"d":0.8,"e":0.75},{"x":42,"a":0.98,"b":0.95,"c":0.92,"d":0.9,"e":0.88},{"x":46,"a":1.05,"b":1.05,"c":1.05,"d":1.02,"e":1},{"x":50,"a":1.1,"b":1.08,"c":1,"d":0.9,"e":0.8},{"x":54,"a":0.95,"b":0.85,"c":0.65,"d":0.45,"e":0.3},{"x":58,"a":0.65,"b":0.45,"c":0.25,"d":0.08,"e":0},{"x":62,"a":0.35,"b":0.15,"c":0.03,"d":0,"e":0},{"x":66,"a":0.08,"b":0.02,"c":0,"d":0,"e":0},{"x":70,"a":0,"b":0,"c":0,"d":0,"e":0},{"x":100,"a":0,"b":0,"c":0,"d":0,"e":0}],
"cb":[{"k":"E 0.7"},{"k":"E 0.8"},{"k":"E 0.9"},{"k":"E 1.0"},{"k":"E 1.1"},{"k":"E 1.2"},{"k":"E 1.3"},{"k":"E 1.4"},{"k":"E 1.5"},{"k":"E 1.6"},{"k":"E 1.7"},{"k":"E 1.8"},{"k":"I 0.7"},{"k":"I 0.8"},{"k":"I 0.9"},{"k":"I 1.0"},{"k":"I 1.1"},{"k":"I 1.2"},{"k":"I 1.3"},{"k":"I 1.4"},{"k":"I 1.5"},{"k":"I 1.6"},{"k":"I 1.7"},{"k":"I 1.8"},{"k":"S 0.7"},{"k":"S 0.8"},{"k":"S 0.9"},{"k":"S 1.0"},{"k":"S 1.1"},{"k":"S 1.2"},{"k":"S 1.3"},{"k":"S 1.4"},{"k":"S 1.5"},{"k":"S 1.6"},{"k":"S 1.7"},{"k":"S 1.8"}]
},
"resolve":{"scale":{"color":"independent"}},
"spacing":36,
"hconcat":[
{"vconcat":[
 {"hconcat":[
  {"title":{"text":"Angle (deg.)","fontSize":23,"fontWeight":"bold","offset":24,"dx":29,"frame":"bounds","anchor":"middle"},
   "columns":3,"bounds":"flush","spacing":{"row":34,"column":40},
   "resolve":{"scale":{"color":"independent"}},
   "concat":[
    {"width":121,"height":141,"title":"Experiment",
     "encoding":{"x":{"field":"x","type":"quantitative","scale":{"domain":[0,100]},"axis":{"values":[0,50,100],"labels":false,"title":null}},
      "y":{"field":"v","type":"quantitative","scale":{"domain":[-40,60]},"axis":{"values":[-40,-20,0,20,40,60],"title":"Hip"}}},
     "layer":[
      {"data":{"name":"hae"},"transform":[{"fold":["a","b","c","d","e"],"as":["s","v"]}],"mark":"line",
       "encoding":{"color":{"field":"s","type":"nominal","scale":{"domain":["a","b","c","d","e"],"range":["#d6d6d6","#aaaaaa","#7d7d7d","#4d4d4d","#111111"]},"legend":null}}},
      {"data":{"values":[{"x":82.5,"v":17.5,"v2":33.5}]},"mark":{"type":"rule","color":"#9c3d4f","strokeWidth":3.5},"encoding":{"y2":{"field":"v2"}}},
      {"data":{"values":[{"x":82.5,"v":33.5}]},"mark":{"type":"point","shape":"M-1,1.1L0,0L1,1.1","filled":false,"color":"#9c3d4f","strokeWidth":3.5,"size":130,"opacity":1}},
      {"data":{"values":[{"x":8.3,"v":46,"v2":61}]},"mark":{"type":"rule","color":"black","strokeWidth":1.5},"encoding":{"y2":{"field":"v2"}}},
      {"data":{"values":[{"x":8.3,"v":61}]},"mark":{"type":"point","shape":"M-1,1.3L0,0L1,1.3","filled":false,"color":"black","strokeWidth":1.5,"size":30,"opacity":1}},
      {"data":{"values":[{"x":14,"v":55,"t":"flex."}]},"mark":{"type":"text","align":"left","baseline":"middle","fontSize":13,"color":"black"},"encoding":{"text":{"field":"t"}}}
     ]},
    {"width":121,"height":141,"title":"Independent",
     "encoding":{"x":{"field":"x","type":"quantitative","scale":{"domain":[0,100]},"axis":{"values":[0,50,100],"labels":false,"title":null}},
      "y":{"field":"v","type":"quantitative","scale":{"domain":[-40,60]},"axis":{"values":[-40,-20,0,20,40,60],"title":null}}},
     "layer":[
      {"data":{"name":"hai"},"transform":[{"fold":["a","b","c","d","e"],"as":["s","v"]}],"mark":"line",
       "encoding":{"color":{"field":"s","type":"nominal","scale":{"domain":["a","b","c","d","e"],"range":["#fdc770","#f7a84f","#ee8a34","#e06f20","#cc540d"]},"legend":null}}},
      {"data":{"values":[{"x":91.5,"v":47,"v2":19}]},"mark":{"type":"rule","color":"#76c46c","strokeWidth":3.5},"encoding":{"y2":{"field":"v2"}}},
      {"data":{"values":[{"x":91.5,"v":19}]},"mark":{"type":"point","shape":"M-1,-1.1L0,0L1,-1.1","filled":false,"color":"#76c46c","strokeWidth":3.5,"size":130,"opacity":1}}
     ]},
    {"width":121,"height":141,"title":"Synergistic",
     "encoding":{"x":{"field":"x","type":"quantitative","scale":{"domain":[0,100]},"axis":{"values":[0,50,100],"labels":false,"title":null}},
      "y":{"field":"v","type":"quantitative","scale":{"domain":[-40,60]},"axis":{"values":[-40,-20,0,20,40,60],"title":null}}},
     "layer":[
      {"data":{"name":"has"},"transform":[{"fold":["a","b","c","d","e"],"as":["s","v"]}],"mark":"line",
       "encoding":{"color":{"field":"s","type":"nominal","scale":{"domain":["a","b","c","d","e"],"range":["#bcd3f3","#8fa7df","#5f74c6","#3041a8","#0a1186"]},"legend":null}}},
      {"data":{"values":[{"x":92.5,"v":30.5,"v2":55}]},"mark":{"type":"rule","color":"#9c3d4f","strokeWidth":3.5},"encoding":{"y2":{"field":"v2"}}},
      {"data":{"values":[{"x":92.5,"v":55}]},"mark":{"type":"point","shape":"M-1,1.1L0,0L1,1.1","filled":false,"color":"#9c3d4f","strokeWidth":3.5,"size":130,"opacity":1}}
     ]},
    {"width":121,"height":141,
     "encoding":{"x":{"field":"x","type":"quantitative","scale":{"domain":[0,100]},"axis":{"values":[0,50,100],"labels":false,"title":null}},
      "y":{"field":"v","type":"quantitative","scale":{"domain":[-110,0]},"axis":{"values":[-100,-75,-50,-25,0],"title":"Knee"}}},
     "layer":[
      {"data":{"name":"kae"},"transform":[{"fold":["a","b","c","d","e"],"as":["s","v"]}],"mark":"line",
       "encoding":{"color":{"field":"s","type":"nominal","scale":{"domain":["a","b","c","d","e"],"range":["#d6d6d6","#aaaaaa","#7d7d7d","#4d4d4d","#111111"]},"legend":null}}},
      {"data":{"values":[{"x":10,"v":-17,"v2":-41},{"x":70,"v":-60,"v2":-77}]},"mark":{"type":"rule","color":"#9c3d4f","strokeWidth":3.5},"encoding":{"y2":{"field":"v2"}}},
      {"data":{"values":[{"x":10,"v":-41},{"x":70,"v":-77}]},"mark":{"type":"point","shape":"M-1,-1.1L0,0L1,-1.1","filled":false,"color":"#9c3d4f","strokeWidth":3.5,"size":130,"opacity":1}},
      {"data":{"values":[{"x":8.3,"v":-15,"v2":1}]},"mark":{"type":"rule","color":"black","strokeWidth":1.5},"encoding":{"y2":{"field":"v2"}}},
      {"data":{"values":[{"x":8.3,"v":1}]},"mark":{"type":"point","shape":"M-1,1.3L0,0L1,1.3","filled":false,"color":"black","strokeWidth":1.5,"size":30,"opacity":1}},
      {"data":{"values":[{"x":14,"v":-4,"t":"ext."}]},"mark":{"type":"text","align":"left","baseline":"middle","fontSize":13,"color":"black"},"encoding":{"text":{"field":"t"}}}
     ]},
    {"width":121,"height":141,
     "encoding":{"x":{"field":"x","type":"quantitative","scale":{"domain":[0,100]},"axis":{"values":[0,50,100],"labels":false,"title":null}},
      "y":{"field":"v","type":"quantitative","scale":{"domain":[-110,0]},"axis":{"values":[-100,-75,-50,-25,0],"title":null}}},
     "layer":[
      {"data":{"name":"kai"},"transform":[{"fold":["a","b","c","d","e"],"as":["s","v"]}],"mark":"line",
       "encoding":{"color":{"field":"s","type":"nominal","scale":{"domain":["a","b","c","d","e"],"range":["#fdc770","#f7a84f","#ee8a34","#e06f20","#cc540d"]},"legend":null}}},
      {"data":{"values":[{"x":9,"v":-52,"v2":-25},{"x":84,"v":-101,"v2":-65}]},"mark":{"type":"rule","color":"#76c46c","strokeWidth":3.5},"encoding":{"y2":{"field":"v2"}}},
      {"data":{"values":[{"x":9,"v":-25},{"x":84,"v":-65}]},"mark":{"type":"point","shape":"M-1,1.1L0,0L1,1.1","filled":false,"color":"#76c46c","strokeWidth":3.5,"size":130,"opacity":1}}
     ]},
    {"width":121,"height":141,
     "encoding":{"x":{"field":"x","type":"quantitative","scale":{"domain":[0,100]},"axis":{"values":[0,50,100],"labels":false,"title":null}},
      "y":{"field":"v","type":"quantitative","scale":{"domain":[-110,0]},"axis":{"values":[-100,-75,-50,-25,0],"title":null}}},
     "layer":[
      {"data":{"name":"kas"},"transform":[{"fold":["a","b","c","d","e"],"as":["s","v"]}],"mark":"line",
       "encoding":{"color":{"field":"s","type":"nominal","scale":{"domain":["a","b","c","d","e"],"range":["#bcd3f3","#8fa7df","#5f74c6","#3041a8","#0a1186"]},"legend":null}}},
      {"data":{"values":[{"x":76,"v":-46,"v2":-70}]},"mark":{"type":"rule","color":"#9c3d4f","strokeWidth":3.5},"encoding":{"y2":{"field":"v2"}}},
      {"data":{"values":[{"x":76,"v":-70}]},"mark":{"type":"point","shape":"M-1,-1.1L0,0L1,-1.1","filled":false,"color":"#9c3d4f","strokeWidth":3.5,"size":130,"opacity":1}}
     ]},
    {"width":121,"height":141,
     "encoding":{"x":{"field":"x","type":"quantitative","scale":{"domain":[0,100]},"axis":{"values":[0,50,100],"title":"Gait Phase (%)"}},
      "y":{"field":"v","type":"quantitative","scale":{"domain":[-20,30]},"axis":{"values":[-20,-10,0,10,20,30],"title":"Ankle"}}},
     "layer":[
      {"data":{"name":"aae"},"transform":[{"fold":["a","b","c","d","e"],"as":["s","v"]}],"mark":"line",
       "encoding":{"color":{"field":"s","type":"nominal","scale":{"domain":["a","b","c","d","e"],"range":["#d6d6d6","#aaaaaa","#7d7d7d","#4d4d4d","#111111"]},"legend":null}}},
      {"data":{"values":[{"x":8.3,"v":22.5,"v2":30}]},"mark":{"type":"rule","color":"black","strokeWidth":1.5},"encoding":{"y2":{"field":"v2"}}},
      {"data":{"values":[{"x":8.3,"v":30}]},"mark":{"type":"point","shape":"M-1,1.3L0,0L1,1.3","filled":false,"color":"black","strokeWidth":1.5,"size":30,"opacity":1}},
      {"data":{"values":[{"x":14,"v":27.5,"t":"dorsi."}]},"mark":{"type":"text","align":"left","baseline":"middle","fontSize":13,"color":"black"},"encoding":{"text":{"field":"t"}}}
     ]},
    {"width":121,"height":141,"data":{"name":"aai"},"transform":[{"fold":["a","b","c","d","e"],"as":["s","v"]}],"mark":"line",
     "encoding":{"x":{"field":"x","type":"quantitative","scale":{"domain":[0,100]},"axis":{"values":[0,50,100],"title":"Gait Phase (%)"}},
      "y":{"field":"v","type":"quantitative","scale":{"domain":[-20,30]},"axis":{"values":[-20,-10,0,10,20,30],"title":null}},
      "color":{"field":"s","type":"nominal","scale":{"domain":["a","b","c","d","e"],"range":["#fdc770","#f7a84f","#ee8a34","#e06f20","#cc540d"]},"legend":null}}},
    {"width":121,"height":141,"data":{"name":"aas"},"transform":[{"fold":["a","b","c","d","e"],"as":["s","v"]}],"mark":"line",
     "encoding":{"x":{"field":"x","type":"quantitative","scale":{"domain":[0,100]},"axis":{"values":[0,50,100],"title":"Gait Phase (%)"}},
      "y":{"field":"v","type":"quantitative","scale":{"domain":[-20,30]},"axis":{"values":[-20,-10,0,10,20,30],"title":null}},
      "color":{"field":"s","type":"nominal","scale":{"domain":["a","b","c","d","e"],"range":["#bcd3f3","#8fa7df","#5f74c6","#3041a8","#0a1186"]},"legend":null}}}
   ]},
  {"title":{"text":"Moment (Nm/kg)","fontSize":23,"fontWeight":"bold","offset":24,"dx":13,"frame":"bounds","anchor":"middle"},
   "columns":3,"bounds":"flush","spacing":{"row":34,"column":40},
   "resolve":{"scale":{"color":"independent"}},
   "concat":[
    {"width":123,"height":141,"title":"Experiment","data":{"name":"hme"},"transform":[{"fold":["a","b","c","d","e"],"as":["s","v"]}],"mark":"line",
     "encoding":{"x":{"field":"x","type":"quantitative","scale":{"domain":[0,100]},"axis":{"values":[0,50,100],"labels":false,"title":null}},
      "y":{"field":"v","type":"quantitative","scale":{"domain":[-2,2]},"axis":{"values":[-2,-1,0,1,2],"format":".1f","title":null}},
      "color":{"field":"s","type":"nominal","scale":{"domain":["a","b","c","d","e"],"range":["#d6d6d6","#aaaaaa","#7d7d7d","#4d4d4d","#111111"]},"legend":null}}},
    {"width":123,"height":141,"title":"Independent","data":{"name":"hmi"},"transform":[{"fold":["a","b","c","d","e"],"as":["s","v"]}],"mark":"line",
     "encoding":{"x":{"field":"x","type":"quantitative","scale":{"domain":[0,100]},"axis":{"values":[0,50,100],"labels":false,"title":null}},
      "y":{"field":"v","type":"quantitative","scale":{"domain":[-2,2]},"axis":{"values":[-2,-1,0,1,2],"format":".1f","title":null}},
      "color":{"field":"s","type":"nominal","scale":{"domain":["a","b","c","d","e"],"range":["#fdc770","#f7a84f","#ee8a34","#e06f20","#cc540d"]},"legend":null}}},
    {"width":123,"height":141,"title":"Synergistic","data":{"name":"hms"},"transform":[{"fold":["a","b","c","d","e"],"as":["s","v"]}],"mark":"line",
     "encoding":{"x":{"field":"x","type":"quantitative","scale":{"domain":[0,100]},"axis":{"values":[0,50,100],"labels":false,"title":null}},
      "y":{"field":"v","type":"quantitative","scale":{"domain":[-2,2]},"axis":{"values":[-2,-1,0,1,2],"format":".1f","title":null}},
      "color":{"field":"s","type":"nominal","scale":{"domain":["a","b","c","d","e"],"range":["#bcd3f3","#8fa7df","#5f74c6","#3041a8","#0a1186"]},"legend":null}}},
    {"width":123,"height":141,"data":{"name":"kme"},"transform":[{"fold":["a","b","c","d","e"],"as":["s","v"]}],"mark":"line",
     "encoding":{"x":{"field":"x","type":"quantitative","scale":{"domain":[0,100]},"axis":{"values":[0,50,100],"labels":false,"title":null}},
      "y":{"field":"v","type":"quantitative","scale":{"domain":[-1,2]},"axis":{"values":[-1,0,1,2],"format":".1f","title":null}},
      "color":{"field":"s","type":"nominal","scale":{"domain":["a","b","c","d","e"],"range":["#d6d6d6","#aaaaaa","#7d7d7d","#4d4d4d","#111111"]},"legend":null}}},
    {"width":123,"height":141,"data":{"name":"kmi"},"transform":[{"fold":["a","b","c","d","e"],"as":["s","v"]}],"mark":"line",
     "encoding":{"x":{"field":"x","type":"quantitative","scale":{"domain":[0,100]},"axis":{"values":[0,50,100],"labels":false,"title":null}},
      "y":{"field":"v","type":"quantitative","scale":{"domain":[-1,2]},"axis":{"values":[-1,0,1,2],"format":".1f","title":null}},
      "color":{"field":"s","type":"nominal","scale":{"domain":["a","b","c","d","e"],"range":["#fdc770","#f7a84f","#ee8a34","#e06f20","#cc540d"]},"legend":null}}},
    {"width":123,"height":141,"data":{"name":"kms"},"transform":[{"fold":["a","b","c","d","e"],"as":["s","v"]}],"mark":"line",
     "encoding":{"x":{"field":"x","type":"quantitative","scale":{"domain":[0,100]},"axis":{"values":[0,50,100],"labels":false,"title":null}},
      "y":{"field":"v","type":"quantitative","scale":{"domain":[-1,2]},"axis":{"values":[-1,0,1,2],"format":".1f","title":null}},
      "color":{"field":"s","type":"nominal","scale":{"domain":["a","b","c","d","e"],"range":["#bcd3f3","#8fa7df","#5f74c6","#3041a8","#0a1186"]},"legend":null}}},
    {"width":123,"height":141,
     "encoding":{"x":{"field":"x","type":"quantitative","scale":{"domain":[0,100]},"axis":{"values":[0,50,100],"title":"Gait Phase (%)"}},
      "y":{"field":"v","type":"quantitative","scale":{"domain":[-2,1]},"axis":{"values":[-2,-1,0,1],"format":".1f","title":null}}},
     "layer":[
      {"data":{"name":"ame"},"transform":[{"fold":["a","b","c","d","e"],"as":["s","v"]}],"mark":"line",
       "encoding":{"color":{"field":"s","type":"nominal","scale":{"domain":["a","b","c","d","e"],"range":["#d6d6d6","#aaaaaa","#7d7d7d","#4d4d4d","#111111"]},"legend":null}}},
      {"data":{"values":[{"x":19,"v":-0.28,"v2":-0.92}]},"mark":{"type":"rule","color":"#9c3d4f","strokeWidth":3.5},"encoding":{"y2":{"field":"v2"}}},
      {"data":{"values":[{"x":19,"v":-0.92}]},"mark":{"type":"point","shape":"M-1,-1.1L0,0L1,-1.1","filled":false,"color":"#9c3d4f","strokeWidth":3.5,"size":130,"opacity":1}}
     ]},
    {"width":123,"height":141,
     "encoding":{"x":{"field":"x","type":"quantitative","scale":{"domain":[0,100]},"axis":{"values":[0,50,100],"title":"Gait Phase (%)"}},
      "y":{"field":"v","type":"quantitative","scale":{"domain":[-2,1]},"axis":{"values":[-2,-1,0,1],"format":".1f","title":null}}},
     "layer":[
      {"data":{"name":"ami"},"transform":[{"fold":["a","b","c","d","e"],"as":["s","v"]}],"mark":"line",
       "encoding":{"color":{"field":"s","type":"nominal","scale":{"domain":["a","b","c","d","e"],"range":["#fdc770","#f7a84f","#ee8a34","#e06f20","#cc540d"]},"legend":null}}},
      {"data":{"values":[{"x":12.5,"v":-1.12,"v2":0.1}]},"mark":{"type":"rule","color":"#76c46c","strokeWidth":3.5},"encoding":{"y2":{"field":"v2"}}},
      {"data":{"values":[{"x":12.5,"v":0.1}]},"mark":{"type":"point","shape":"M-1,1.1L0,0L1,1.1","filled":false,"color":"#76c46c","strokeWidth":3.5,"size":130,"opacity":1}}
     ]},
    {"width":123,"height":141,"data":{"name":"ams"},"transform":[{"fold":["a","b","c","d","e"],"as":["s","v"]}],"mark":"line",
     "encoding":{"x":{"field":"x","type":"quantitative","scale":{"domain":[0,100]},"axis":{"values":[0,50,100],"title":"Gait Phase (%)"}},
      "y":{"field":"v","type":"quantitative","scale":{"domain":[-2,1]},"axis":{"values":[-2,-1,0,1],"format":".1f","title":null}},
      "color":{"field":"s","type":"nominal","scale":{"domain":["a","b","c","d","e"],"range":["#bcd3f3","#8fa7df","#5f74c6","#3041a8","#0a1186"]},"legend":null}}}
   ]}
 ],"spacing":87,"resolve":{"scale":{"color":"independent"}}},
 {"title":{"text":"GRF (BW)","fontSize":23,"fontWeight":"bold","offset":19,"dx":40,"frame":"bounds","anchor":"middle"},
  "spacing":51,"resolve":{"scale":{"color":"independent"}},
  "hconcat":[
   {"bounds":"flush","spacing":40,"resolve":{"scale":{"color":"independent"}},
    "hconcat":[
    {"width":121,"height":141,"title":"Experiment","data":{"name":"gae"},"transform":[{"fold":["a","b","c","d","e"],"as":["s","v"]}],"mark":"line",
     "encoding":{"x":{"field":"x","type":"quantitative","scale":{"domain":[0,100]},"axis":{"values":[0,50,100],"title":"Gait Phase (%)"}},
      "y":{"field":"v","type":"quantitative","scale":{"domain":[-1.2,0.5]},"axis":{"values":[-1,-0.5,0,0.5],"format":".1f","title":"AP axis"}},
      "color":{"field":"s","type":"nominal","scale":{"domain":["a","b","c","d","e"],"range":["#d6d6d6","#aaaaaa","#7d7d7d","#4d4d4d","#111111"]},"legend":null}}},
    {"width":121,"height":141,"title":"Independent","data":{"name":"gai"},"transform":[{"fold":["a","b","c","d","e"],"as":["s","v"]}],"mark":"line",
     "encoding":{"x":{"field":"x","type":"quantitative","scale":{"domain":[0,100]},"axis":{"values":[0,50,100],"title":"Gait Phase (%)"}},
      "y":{"field":"v","type":"quantitative","scale":{"domain":[-1.2,0.5]},"axis":{"values":[-1,-0.5,0,0.5],"format":".1f","title":null}},
      "color":{"field":"s","type":"nominal","scale":{"domain":["a","b","c","d","e"],"range":["#fdc770","#f7a84f","#ee8a34","#e06f20","#cc540d"]},"legend":null}}},
    {"width":121,"height":141,"title":"Synergistic","data":{"name":"gas"},"transform":[{"fold":["a","b","c","d","e"],"as":["s","v"]}],"mark":"line",
     "encoding":{"x":{"field":"x","type":"quantitative","scale":{"domain":[0,100]},"axis":{"values":[0,50,100],"title":"Gait Phase (%)"}},
      "y":{"field":"v","type":"quantitative","scale":{"domain":[-1.2,0.5]},"axis":{"values":[-1,-0.5,0,0.5],"format":".1f","title":null}},
      "color":{"field":"s","type":"nominal","scale":{"domain":["a","b","c","d","e"],"range":["#bcd3f3","#8fa7df","#5f74c6","#3041a8","#0a1186"]},"legend":null}}}
   ]},
   {"bounds":"flush","spacing":39,"resolve":{"scale":{"color":"independent"}},
    "hconcat":[
    {"width":119,"height":141,"title":"Experiment","data":{"name":"gve"},"transform":[{"fold":["a","b","c","d","e"],"as":["s","v"]}],"mark":"line",
     "encoding":{"x":{"field":"x","type":"quantitative","scale":{"domain":[0,100]},"axis":{"values":[0,50,100],"title":"Gait Phase (%)"}},
      "y":{"field":"v","type":"quantitative","scale":{"domain":[-0.5,2.5]},"axis":{"values":[-0.5,0,0.5,1,1.5,2,2.5],"format":".1f","title":"Vertical axis"}},
      "color":{"field":"s","type":"nominal","scale":{"domain":["a","b","c","d","e"],"range":["#d6d6d6","#aaaaaa","#7d7d7d","#4d4d4d","#111111"]},"legend":null}}},
    {"width":119,"height":141,"title":"Independent","data":{"name":"gvi"},"transform":[{"fold":["a","b","c","d","e"],"as":["s","v"]}],"mark":"line",
     "encoding":{"x":{"field":"x","type":"quantitative","scale":{"domain":[0,100]},"axis":{"values":[0,50,100],"title":"Gait Phase (%)"}},
      "y":{"field":"v","type":"quantitative","scale":{"domain":[-0.5,2.5]},"axis":{"values":[-0.5,0,0.5,1,1.5,2,2.5],"format":".1f","title":null}},
      "color":{"field":"s","type":"nominal","scale":{"domain":["a","b","c","d","e"],"range":["#fdc770","#f7a84f","#ee8a34","#e06f20","#cc540d"]},"legend":null}}},
    {"width":119,"height":141,"title":"Synergistic","data":{"name":"gvs"},"transform":[{"fold":["a","b","c","d","e"],"as":["s","v"]}],"mark":"line",
     "encoding":{"x":{"field":"x","type":"quantitative","scale":{"domain":[0,100]},"axis":{"values":[0,50,100],"title":"Gait Phase (%)"}},
      "y":{"field":"v","type":"quantitative","scale":{"domain":[-0.5,2.5]},"axis":{"values":[-0.5,0,0.5,1,1.5,2,2.5],"format":".1f","title":null}},
      "color":{"field":"s","type":"nominal","scale":{"domain":["a","b","c","d","e"],"range":["#bcd3f3","#8fa7df","#5f74c6","#3041a8","#0a1186"]},"legend":null}}}
   ]}
  ]}
],"spacing":18,"resolve":{"scale":{"color":"independent"}}},
{"width":16,"height":788.5,"data":{"name":"cb"},
 "encoding":{"y":{"field":"k","type":"ordinal","scale":{"domain":["E 1.8","E 1.7","E 1.6","E 1.5","E 1.4","E 1.3","E 1.2","E 1.1","E 1.0","E 0.9","E 0.8","E 0.7","g1","I 1.8","I 1.7","I 1.6","I 1.5","I 1.4","I 1.3","I 1.2","I 1.1","I 1.0","I 0.9","I 0.8","I 0.7","g2","S 1.8","S 1.7","S 1.6","S 1.5","S 1.4","S 1.3","S 1.2","S 1.1","S 1.0","S 0.9","S 0.8","S 0.7"],"paddingInner":0,"paddingOuter":0},
   "axis":{"orient":"right","values":["E 1.8","E 0.7","I 1.8","I 0.7","S 1.8","S 0.7"],"labelExpr":"substring(datum.value, 2)","ticks":false,"tickSize":0,"domain":false,"labelFontSize":19,"labelColor":"black","labelPadding":11,"minExtent":0,"maxExtent":200,"title":null}},
  "x":{"datum":0,"type":"quantitative","scale":{"domain":[0,1]},"axis":null}},
 "layer":[
  {"mark":"rect","encoding":{"x2":{"datum":1},
   "color":{"field":"k","type":"nominal","scale":{"domain":["E 0.7","E 0.8","E 0.9","E 1.0","E 1.1","E 1.2","E 1.3","E 1.4","E 1.5","E 1.6","E 1.7","E 1.8","I 0.7","I 0.8","I 0.9","I 1.0","I 1.1","I 1.2","I 1.3","I 1.4","I 1.5","I 1.6","I 1.7","I 1.8","S 0.7","S 0.8","S 0.9","S 1.0","S 1.1","S 1.2","S 1.3","S 1.4","S 1.5","S 1.6","S 1.7","S 1.8"],
    "range":["#e3e3e3","#d6d6d6","#c9c9c9","#bcbcbc","#afafaf","#a1a1a1","#939393","#858585","#767676","#676767","#575757","#404040","#fdcd76","#fbc16a","#f8b55f","#f5a954","#f29d49","#ee913f","#ea8535","#e57a2b","#e06e22","#da641a","#d45a12","#cc500a","#cde4fb","#b7cdf0","#a2b7e6","#8ea2dc","#7a8ed2","#677ac8","#5567be","#4454b3","#3442a8","#25319c","#16208f","#000a80"]},"legend":null}}},
  {"data":{"values":[{"k":"E 1.2","t":"Experiment"},{"k":"I 1.2","t":"Independent"},{"k":"S 1.2","t":"Synergistic"}]},"mark":{"type":"text","angle":270,"fontSize":22,"align":"center","baseline":"middle","yOffset":-10},"encoding":{"x":{"datum":-1.19,"type":"quantitative","scale":{"domain":[0,1]}},"text":{"field":"t"}}},
  {"data":{"values":[{"k":"E 1.2"},{"k":"I 1.2"},{"k":"S 1.2"}]},"mark":{"type":"text","angle":270,"fontSize":16,"align":"center","baseline":"middle","yOffset":-6},"encoding":{"x":{"datum":2.35,"type":"quantitative","scale":{"domain":[0,1]}},"text":{"value":"Walking Speed"}}},
  {"data":{"values":[{"k":"E 1.2"},{"k":"I 1.2"},{"k":"S 1.2"}]},"mark":{"type":"text","angle":270,"fontSize":15,"align":"center","baseline":"middle","yOffset":-6},"encoding":{"x":{"datum":3.3,"type":"quantitative","scale":{"domain":[0,1]}},"text":{"value":"(Δv = 0.1 m/s)"}}}
 ]}
]
}
